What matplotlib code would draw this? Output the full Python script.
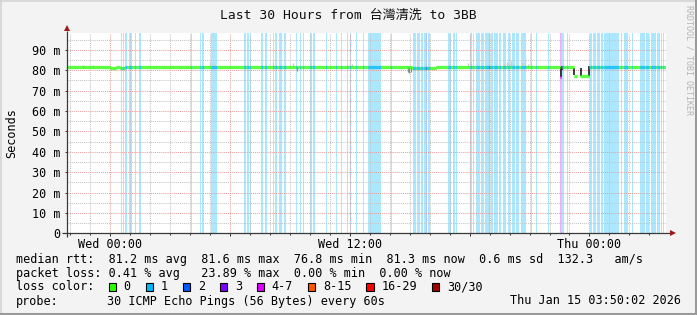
import matplotlib
matplotlib.use('Agg')
import matplotlib.pyplot as plt
import matplotlib.dates as mdates
from matplotlib.collections import LineCollection
from matplotlib.patches import Rectangle
from matplotlib.lines import Line2D
from matplotlib.ticker import MultipleLocator, FuncFormatter
import numpy as np
from datetime import datetime, timedelta

# ---------------- data ----------------
start_time = datetime(2026, 1, 13, 21, 50, 2)
step_minutes = 3
n_steps = 600

loss_labels = ['0', '1', '2', '3', '4-7', '8-15', '16-29', '30/30']
loss_colors = ['#26ff00', '#00b8ff', '#0059ff', '#7e00ff', '#dd00ff', '#ff5500', '#ff0000', '#a10000']

# (first step, end step exclusive, median rtt in ms)
median_segments = [
    (0, 43, 81.4), (43, 49, 80.9), (49, 53, 81.4), (53, 58, 80.9), (58, 346, 81.4),
    (346, 370, 80.9), (370, 483, 81.7), (483, 494, 81.4), (494, 495, 76.8),
    (495, 508, 81.5), (508, 511, 77.1), (514, 523, 77.0), (523, 600, 81.5),
]

# (first step, end step exclusive, loss bin index)
loss_spans = [
    (54, 55, 1), (56, 57, 1), (58, 60, 1), (62, 65, 1), (68, 69, 1), (72, 74, 1),
    (124, 125, 1), (133, 134, 1), (135, 137, 1), (144, 150, 1),
    (177, 179, 1), (180, 182, 1), (183, 184, 1), (194, 196, 1), (198, 200, 1),
    (206, 207, 1), (208, 210, 1), (212, 215, 1), (217, 219, 1),
    (229, 230, 1), (233, 234, 1), (236, 237, 1), (243, 245, 1), (246, 248, 1),
    (259, 260, 1), (269, 270, 1), (274, 275, 1), (280, 281, 1),
    (283, 284, 1), (289, 290, 1), (296, 297, 1), (302, 315, 1), (325, 326, 1),
    (347, 350, 1), (351, 354, 1), (355, 357, 1), (358, 360, 1), (360, 361, 2), (362, 364, 1),
    (382, 385, 1), (387, 389, 1), (390, 391, 1),
    (404, 406, 1), (407, 408, 1), (410, 414, 1), (415, 418, 1), (419, 423, 1), (423, 424, 2),
    (425, 427, 1), (428, 432, 1), (433, 435, 1), (437, 440, 1), (442, 444, 1), (446, 449, 1),
    (450, 453, 1), (455, 460, 1), (465, 466, 1), (470, 471, 1), (482, 483, 1),
    (494, 495, 4), (495, 496, 5), (496, 498, 1), (501, 502, 1),
    (524, 526, 1), (527, 530, 1), (531, 534, 1), (535, 537, 1), (538, 553, 1), (555, 556, 1),
    (558, 562, 1), (566, 567, 1), (574, 579, 1), (580, 583, 1), (585, 590, 1), (591, 594, 1),
    (595, 596, 1), (597, 598, 1),
]

# smoke: (step, low ms, high ms)
smoke_light = [
    (16, 81.4, 82.6), (26, 81.4, 82.3), (143, 81.4, 84.0), (147, 81.4, 83.2),
    (206, 81.4, 84.0), (226, 81.4, 83.6), (283, 81.4, 84.5), (285, 81.4, 83.0),
    (350, 80.9, 85.5), (401, 81.7, 83.5), (404, 81.7, 84.0),
    (437, 81.7, 83.5), (440, 81.7, 84.2), (442, 81.7, 83.0), (444, 81.7, 84.3),
    (446, 81.7, 83.3), (455, 81.7, 83.8), (458, 81.7, 84.5), (461, 81.7, 83.2),
    (464, 81.7, 84.0),
]
smoke_mid = [(230, 79.4, 81.4), (341, 79.0, 81.4), (342, 78.7, 81.4), (344, 79.2, 81.4)]
smoke_dark = [
    (494, 76.5, 81.4), (495, 80.0, 82.1), (507, 77.6, 80.9), (514, 77.3, 80.9),
    (522, 77.1, 81.9),
]

title = 'Last 30 Hours from 台灣清洗 to 3BB'
row_rtt = 'median rtt:  81.2 ms avg  81.6 ms max  76.8 ms min  81.3 ms now  0.6 ms sd  132.3   am/s'
row_loss = 'packet loss: 0.41 % avg   23.89 % max  0.00 % min  0.00 % now'
probe_label = 'probe:'
probe_text = '30 ICMP Echo Pings (56 Bytes) every 60s'
stamp = 'Thu Jan 15 03:50:02 2026'

# ---------------- figure ----------------
W, H = 697, 315
MONO = 'DejaVu Sans Mono'
FS = 8.5
plt.rcParams['font.family'] = [MONO, 'Noto Sans CJK TC']

fig = plt.figure(figsize=(W / 100, H / 100), dpi=100)
fig.patch.set_facecolor('#f3f3f3')


def fx(x):
    return x / W


def fy(y):
    return 1 - y / H


ax = fig.add_axes([fx(67), fy(233.3), 599 / W, 200.3 / H])
ax.set_facecolor('white')

times = [start_time + timedelta(minutes=step_minutes * i) for i in range(n_steps + 1)]
tnum = mdates.date2num(times)

median = np.full(n_steps, np.nan)
for a, b, v in median_segments:
    median[a:b] = v
loss = np.zeros(n_steps, dtype=int)
for a, b, l in loss_spans:
    loss[a:b] = l


def light(c, a=0.33):
    r, g, b = matplotlib.colors.to_rgb(c)
    return (1 - a + a * r, 1 - a + a * g, 1 - a + a * b)


for a, b, l in loss_spans:
    ax.axvspan(tnum[a], tnum[b], color=light(loss_colors[l]), lw=0, zorder=1)

# grid
ax.set_xlim(tnum[0], tnum[0] + 30 / 24)
ax.set_ylim(0, 98.2)
ax.xaxis.set_major_locator(mdates.HourLocator(byhour=range(0, 24, 6)))
ax.xaxis.set_minor_locator(mdates.HourLocator())
ax.yaxis.set_major_locator(MultipleLocator(10))
ax.yaxis.set_minor_locator(MultipleLocator(5))


def xfmt(v, pos):
    d = mdates.num2date(v)
    if d.hour in (0, 12) and d.minute == 0:
        return d.strftime('%a %H:%M')
    return ''


ax.xaxis.set_major_formatter(FuncFormatter(xfmt))
ax.yaxis.set_major_formatter(FuncFormatter(lambda v, p: '0' if v == 0 else f'{int(round(v))} m'))
ax.set_axisbelow('line')
ax.grid(which='major', color='#e6a0a0', lw=0.75, ls=(0, (1, 1)))
ax.grid(which='minor', color='#c4c4c4', lw=0.75, ls=(0, (1, 1)))

axis_col = '#3a3a3a'
ax.tick_params(which='major', axis='x', length=2.2, width=0.75, color=axis_col, pad=1.4,
               labelsize=FS)
ax.tick_params(which='minor', axis='x', length=1.4, width=0.75, color=axis_col)
ax.tick_params(which='major', axis='y', length=1.6, width=0.75, color=axis_col, pad=3.4,
               labelsize=FS)
ax.tick_params(which='minor', axis='y', length=0)
for lab in ax.get_xticklabels() + ax.get_yticklabels():
    lab.set_family(MONO)
for s in ax.spines.values():
    s.set_visible(False)

# smoke
for group, col, lw in ((smoke_light, '#cdcdcd', 0.9), (smoke_mid, '#8c8c8c', 0.9),
                       (smoke_dark, '#1a1a1a', 1.2)):
    xs = [(tnum[s] + tnum[s + 1]) / 2 for s, _, _ in group]
    ax.vlines(xs, [g[1] for g in group], [g[2] for g in group], colors=col, lw=lw, zorder=2.2)

# median line coloured by loss
segs, cols = [], []
for i in range(n_steps):
    if np.isnan(median[i]):
        continue
    segs.append([(tnum[i], median[i]), (tnum[i + 1], median[i])])
    cols.append(loss_colors[loss[i]])
ax.add_collection(LineCollection(segs, colors=cols, linewidths=2.3, capstyle='butt', zorder=3))

# axis lines and arrows
arrow_col = '#a01818'
ax.plot([-0.009, 1.008], [0, 0], transform=ax.transAxes, color=axis_col, lw=0.9,
        clip_on=False, zorder=4, solid_capstyle='butt')
ax.plot([0, 0], [-0.017, 1.01], transform=ax.transAxes, color=axis_col, lw=0.9,
        clip_on=False, zorder=4, solid_capstyle='butt')
ax.plot([1.0125], [0], marker='>', ms=4.5, color=arrow_col, transform=ax.transAxes,
        clip_on=False, zorder=5, mew=0)
ax.plot([0], [1.023], marker='^', ms=4.5, color=arrow_col, transform=ax.transAxes,
        clip_on=False, zorder=5, mew=0)

# texts
fig.text(fx(348), fy(19), title, ha='center', va='baseline', fontsize=9.4,
         family=[MONO, 'Noto Sans CJK TC'], color='#111111')
fig.text(fx(11.5), fy(133), 'Seconds', rotation=90, ha='center', va='center', fontsize=FS,
         family=MONO)
fig.text(fx(689), fy(60), 'RRDTOOL / TOBI OETIKER', rotation=270, ha='center', va='center',
         fontsize=6, family=MONO, color='#b4b4b4')

fig.text(fx(16), fy(262.5), row_rtt, ha='left', va='baseline', fontsize=FS, family=MONO)
fig.text(fx(16), fy(276.5), row_loss, ha='left', va='baseline', fontsize=FS, family=MONO)
fig.text(fx(16), fy(290.5), 'loss color:', ha='left', va='baseline', fontsize=FS, family=MONO)
fig.text(fx(16), fy(304.5), probe_label, ha='left', va='baseline', fontsize=FS, family=MONO)
fig.text(fx(107.3), fy(304.5), probe_text, ha='left', va='baseline', fontsize=FS, family=MONO)
fig.text(fx(680.5), fy(304.5), stamp, ha='right', va='baseline', fontsize=FS, family=MONO)

char_w = 7.11
bx = 108.7
for lab, col in zip(loss_labels, loss_colors):
    fig.add_artist(Rectangle((fx(bx), fy(291)), 7.3 / W, 7.8 / H, facecolor=col,
                             edgecolor='black', lw=0.8, transform=fig.transFigure))
    fig.text(fx(bx + 15), fy(290.5), lab, ha='left', va='baseline', fontsize=FS, family=MONO)
    bx += 37 + char_w * (len(lab) - 1)

# 3D-ish frame
fig.add_artist(Line2D([0, 1], [fy(0.5), fy(0.5)], color='#d4d4d4', lw=1.2,
                      transform=fig.transFigure))
fig.add_artist(Line2D([fx(0.5), fx(0.5)], [0, 1], color='#d4d4d4', lw=1.2,
                      transform=fig.transFigure))
fig.add_artist(Line2D([0, 1], [fy(314), fy(314)], color='#9a9a9a', lw=2.2,
                      transform=fig.transFigure))
fig.add_artist(Line2D([fx(696), fx(696)], [0, 1], color='#9a9a9a', lw=2.2,
                      transform=fig.transFigure))

fig.savefig('out.png', dpi=100, facecolor=fig.get_facecolor())
